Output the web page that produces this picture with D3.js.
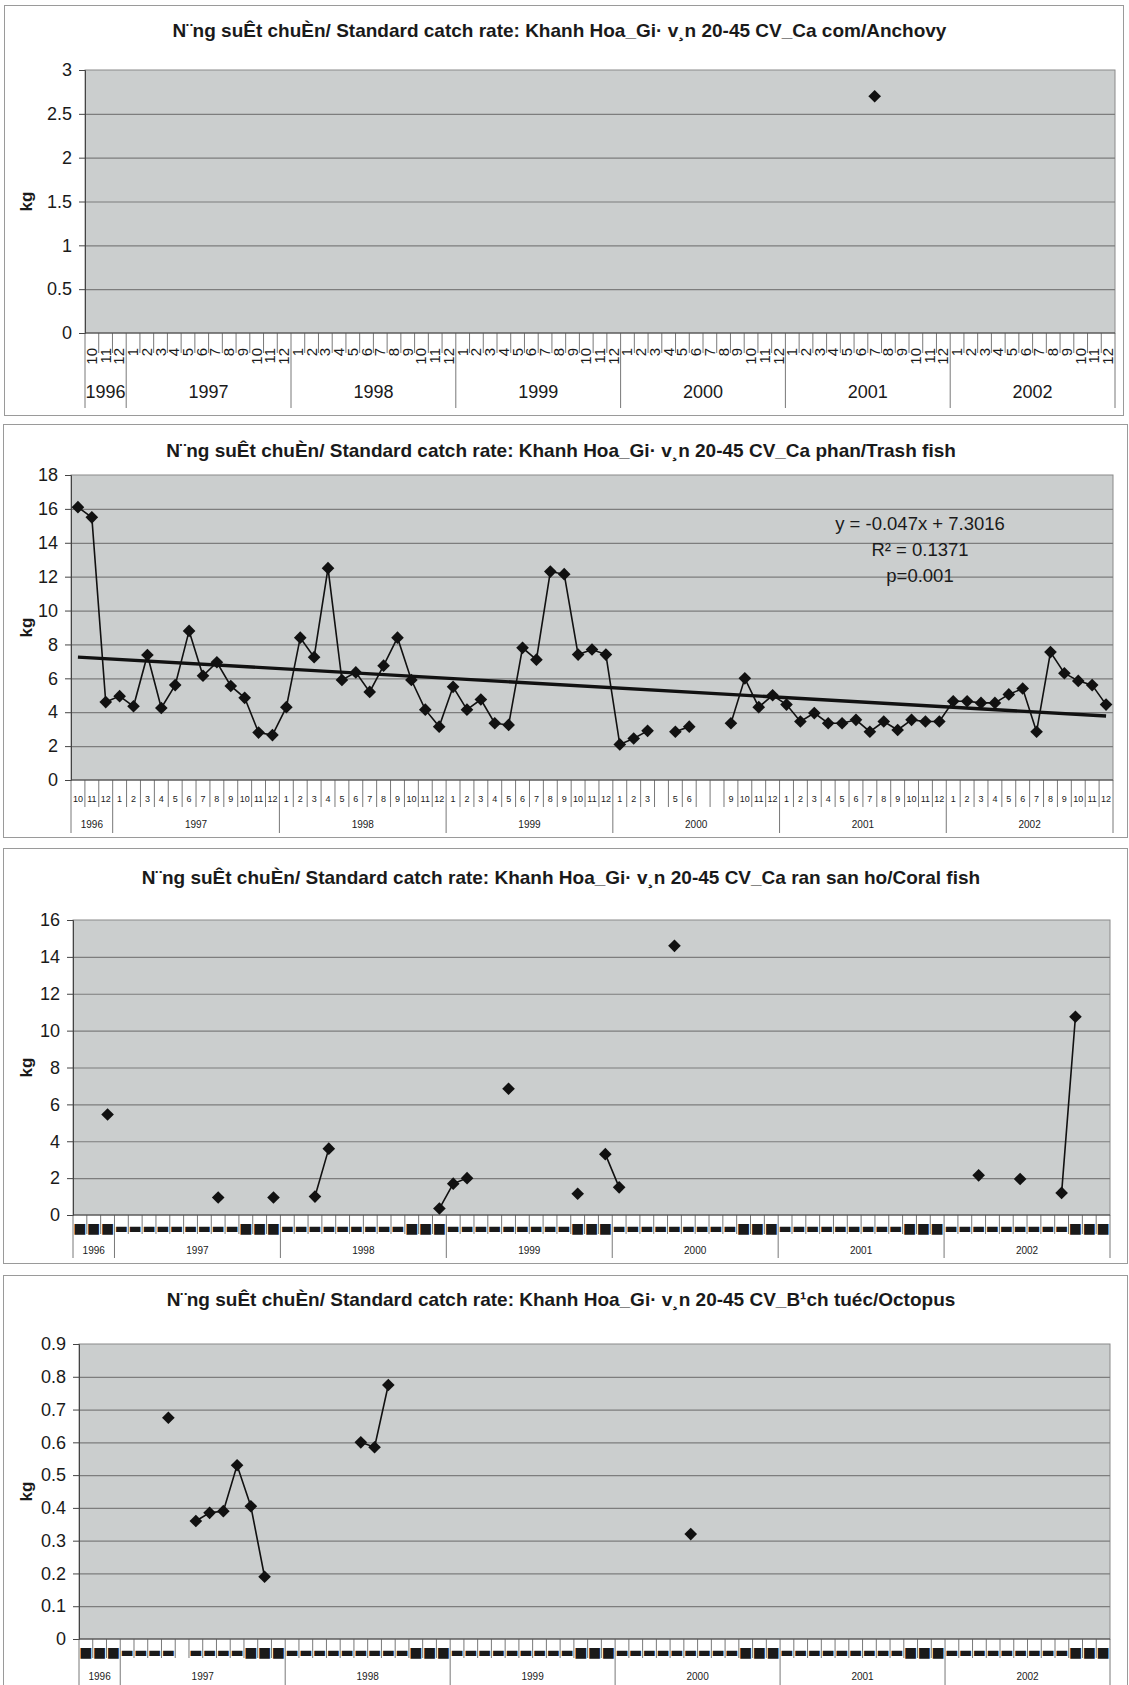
<!DOCTYPE html>
<html>
<head>
<meta charset="utf-8">
<script src="https://cdn.jsdelivr.net/npm/d3@7"></script>
<style>
  body { margin: 0; background: #fff; }
  svg { display: block; }
  text { font-family: "Liberation Sans", Arial, sans-serif; fill: #1a1a1a; }
</style>
</head>
<body>
<div id="chart"></div>
<script>
const WIDTH = 1129;
const HEIGHT = 1685;

// categories: Oct 1996 .. Dec 2002, one per month
const years = ["1996", "1997", "1998", "1999", "2000", "2001", "2002"];
const categories = [];
years.forEach((yr, i) => {
	for (let m = i === 0 ? 10 : 1; m <= 12; m++) categories.push(m + "/" + yr);
});

// months whose tick label is blank in the original
const trashBlankLabels = ["4/2000", "7/2000", "8/2000"];
const octopusBlankLabels = ["5/1997"];

// Ca com / Anchovy
const anchovyMonths = ["7/2001"];
const anchovyValues = [2.7];

// Ca phan / Trash fish (one row per year)
const trashValues = [
	16.1, 15.5, 4.6,
	4.95, 4.35, 7.38, 4.25, 5.6, 8.8, 6.15, 6.95, 5.55, 4.85, 2.8, 2.65,
	4.3, 8.4, 7.25, 12.5, 5.9, 6.35, 5.2, 6.75, 8.4, 5.9, 4.15, 3.15,
	5.5, 4.15, 4.75, 3.35, 3.25, 7.8, 7.1, 12.3, 12.15, 7.4, 7.7, 7.4,
	2.1, 2.45, 2.9, null, 2.85, 3.15, null, null, 3.35, 6.0, 4.3, 5.0,
	4.45, 3.45, 3.95, 3.35, 3.35, 3.55, 2.85, 3.45, 2.95, 3.55, 3.45, 3.45,
	4.65, 4.65, 4.55, 4.55, 5.05, 5.4, 2.85, 7.55, 6.3, 5.85, 5.6, 4.45
];
const trendSlope = -0.047;
const trendIntercept = 7.3016;
const trendText = ["y = -0.047x + 7.3016", "R² = 0.1371", "p=0.001"];

// Ca ran san ho / Coral fish
const coralMonths = ["12/1996", "8/1997", "12/1997", "3/1998", "4/1998", "12/1998", "1/1999", "2/1999",
	"5/1999", "10/1999", "12/1999", "1/2000", "5/2000", "3/2002", "6/2002", "9/2002", "10/2002"];
const coralValues = [5.45, 0.95, 0.95, 1.0, 3.6, 0.35, 1.7, 2.0, 6.85, 1.15, 3.3, 1.5, 14.6, 2.15, 1.95, 1.2, 10.75];

// Bach tuoc / Octopus
const octopusMonths = ["4/1997", "6/1997", "7/1997", "8/1997", "9/1997", "10/1997", "11/1997",
	"6/1998", "7/1998", "8/1998", "6/2000"];
const octopusValues = [0.675, 0.36, 0.385, 0.39, 0.53, 0.405, 0.19, 0.6, 0.585, 0.775, 0.32];

const TITLE_HEAD = "N¨ng suÊt chuÈn/ Standard catch rate: Khanh Hoa_Gi· v¸n 20-45 CV_";

function spread(months, values) {
	const out = categories.map(() => null);
	months.forEach((m, i) => { out[categories.indexOf(m)] = values[i]; });
	return out;
}

const PLOT_FILL = "#cbcece";
const GRID = "#7d7d7d";

const svg = d3.select("#chart").append("svg")
	.attr("width", WIDTH)
	.attr("height", HEIGHT);

const panels = [
	{ title: TITLE_HEAD + "Ca com/Anchovy", values: spread(anchovyMonths, anchovyValues),
	  box: [4, 5, 1123, 415], titleY: 30, left: 85, right: 1115, top: 70, bottom: 333,
	  yMax: 3, step: 0.5, labelStyle: "rotated", blanks: [],
	  monthTick: 20, yearTick: 75, monthY: 348, yearY: 392, yearSize: 18 },
	{ title: TITLE_HEAD + "Ca phan/Trash fish", values: trashValues,
	  box: [3, 424, 1127, 837], titleY: 450, left: 71, right: 1113, top: 475, bottom: 780,
	  yMax: 18, step: 2, labelStyle: "numbers", blanks: trashBlankLabels,
	  monthTick: 27, yearTick: 53, monthY: 799, yearY: 824, yearSize: 10, trend: true },
	{ title: TITLE_HEAD + "Ca ran san ho/Coral fish", values: spread(coralMonths, coralValues),
	  box: [3, 848, 1127, 1263], titleY: 877, left: 73, right: 1110, top: 920, bottom: 1215,
	  yMax: 16, step: 2, labelStyle: "boxes", blanks: [],
	  monthTick: 19, yearTick: 43, monthY: 1228, yearY: 1250, yearSize: 10 },
	{ title: TITLE_HEAD + "B¹ch tuéc/Octopus", values: spread(octopusMonths, octopusValues),
	  box: [3, 1275, 1127, 1700], titleY: 1299, left: 79, right: 1110, top: 1344, bottom: 1639,
	  yMax: 0.9, step: 0.1, labelStyle: "boxes", blanks: octopusBlankLabels,
	  monthTick: 19, yearTick: 50, monthY: 1652, yearY: 1676, yearSize: 10 }
];

panels.forEach(drawPanel);

function drawPanel(p) {
	const g = svg.append("g");
	const [bx0, by0, bx1, by1] = p.box;

	g.append("rect")
		.attr("x", bx0 + 0.5).attr("y", by0 + 0.5)
		.attr("width", bx1 - bx0).attr("height", by1 - by0)
		.attr("fill", "#fff").attr("stroke", "#9a9a9a");

	g.append("text")
		.attr("x", (bx0 + bx1) / 2 - 4)
		.attr("y", p.titleY)
		.attr("text-anchor", "middle")
		.attr("dominant-baseline", "central")
		.style("font-size", "19px")
		.style("font-weight", "bold")
		.text(p.title);

	const x = d3.scaleBand().domain(d3.range(categories.length)).range([p.left, p.right]);
	const y = d3.scaleLinear().domain([0, p.yMax]).range([p.bottom, p.top]);
	const cx = i => x(i) + x.bandwidth() / 2;
	const tickVals = d3.range(0, Math.round(p.yMax / p.step) + 1).map(i => +(i * p.step).toFixed(3));

	g.append("rect")
		.attr("x", p.left).attr("y", p.top)
		.attr("width", p.right - p.left).attr("height", p.bottom - p.top)
		.attr("fill", PLOT_FILL).attr("stroke", "#8a8a8a");

	// gridlines
	g.append("g")
		.attr("transform", `translate(${p.left},0)`)
		.call(d3.axisLeft(y).tickValues(tickVals.slice(1, -1)).tickSize(-(p.right - p.left)).tickFormat(""))
		.call(a => a.select(".domain").remove())
		.call(a => a.selectAll("line").attr("stroke", GRID).attr("stroke-width", 1.2));

	// y axis
	g.append("g")
		.attr("transform", `translate(${p.left},0)`)
		.call(d3.axisLeft(y).tickValues(tickVals).tickSize(6).tickPadding(7)
			.tickFormat(d => String(+d.toFixed(2))))
		.call(a => a.select(".domain").attr("stroke", "#444"))
		.call(a => a.selectAll("line").attr("stroke", "#444"))
		.call(a => a.selectAll("text").style("font-size", "18px").attr("fill", "#1a1a1a")
			.attr("font-family", null));

	g.append("text")
		.attr("transform", `translate(26,${(p.top + p.bottom) / 2}) rotate(-90)`)
		.attr("text-anchor", "middle")
		.attr("dominant-baseline", "central")
		.style("font-size", "17px")
		.style("font-weight", "bold")
		.text("kg");

	// category axis
	const ax = g.append("g");
	ax.append("line")
		.attr("x1", p.left).attr("x2", p.right)
		.attr("y1", p.bottom).attr("y2", p.bottom)
		.attr("stroke", "#444");

	const bounds = d3.range(categories.length + 1);
	const isYearStart = i => i === 0 || i === categories.length || categories[i].startsWith("1/");
	const edge = i => (i === categories.length ? p.right : x(i));

	ax.selectAll("line.month")
		.data(bounds.filter(i => !isYearStart(i)))
		.join("line")
		.attr("class", "month")
		.attr("x1", edge).attr("x2", edge)
		.attr("y1", p.bottom).attr("y2", p.bottom + p.monthTick)
		.attr("stroke", "#555").attr("stroke-width", 0.8);

	ax.selectAll("line.year")
		.data(bounds.filter(isYearStart))
		.join("line")
		.attr("class", "year")
		.attr("x1", edge).attr("x2", edge)
		.attr("y1", p.bottom).attr("y2", p.bottom + p.yearTick)
		.attr("stroke", "#555").attr("stroke-width", 0.8);

	const monthOf = c => c.split("/")[0];
	const shown = d3.range(categories.length).filter(i => !p.blanks.includes(categories[i]));

	if (p.labelStyle === "rotated") {
		ax.selectAll("text.month")
			.data(shown)
			.join("text")
			.attr("class", "month")
			.attr("transform", i => `translate(${cx(i) + 5},${p.monthY}) rotate(-90)`)
			.attr("text-anchor", "end")
			.style("font-size", "15px")
			.text(i => monthOf(categories[i]));
	} else if (p.labelStyle === "numbers") {
		ax.selectAll("text.month")
			.data(shown)
			.join("text")
			.attr("class", "month")
			.attr("x", cx).attr("y", p.monthY)
			.attr("text-anchor", "middle")
			.attr("dominant-baseline", "central")
			.style("font-size", "9px")
			.text(i => monthOf(categories[i]));
	} else {
		// labels came out as missing-glyph boxes in the scan
		ax.selectAll("text.month")
			.data(shown)
			.join("text")
			.attr("class", "month")
			.attr("x", cx).attr("y", p.monthY)
			.attr("text-anchor", "middle")
			.attr("dominant-baseline", "central")
			.style("font-family", "'DejaVu Sans'")
			.style("font-size", "14px")
			.text(i => (monthOf(categories[i]).length > 1 ? "■" : "▬"));
	}

	ax.selectAll("text.year")
		.data(years)
		.join("text")
		.attr("class", "year")
		.attr("x", yr => {
			const idx = categories.map((c, i) => [c, i]).filter(([c]) => c.endsWith(yr)).map(d => d[1]);
			return (x(idx[0]) + x(idx[idx.length - 1]) + x.bandwidth()) / 2;
		})
		.attr("y", p.yearY)
		.attr("text-anchor", "middle")
		.attr("dominant-baseline", "central")
		.style("font-size", p.yearSize + "px")
		.text(yr => yr);

	// trend line
	if (p.trend) {
		const ends = [0, categories.length - 1];
		g.append("line")
			.attr("x1", cx(ends[0])).attr("y1", y(trendIntercept + trendSlope * (ends[0] + 1)))
			.attr("x2", cx(ends[1])).attr("y2", y(trendIntercept + trendSlope * (ends[1] + 1)))
			.attr("stroke", "#111").attr("stroke-width", 3.4);

		g.selectAll("text.eq")
			.data(trendText)
			.join("text")
			.attr("class", "eq")
			.attr("x", 920)
			.attr("y", (d, i) => 523 + i * 26)
			.attr("text-anchor", "middle")
			.attr("dominant-baseline", "central")
			.style("font-size", "18.5px")
			.text(d => d);
	}

	// series
	const pts = p.values.map((v, i) => ({ i, v }));
	g.append("path")
		.datum(pts)
		.attr("fill", "none")
		.attr("stroke", "#111")
		.attr("stroke-width", 1.6)
		.attr("d", d3.line().defined(d => d.v != null).x(d => cx(d.i)).y(d => y(d.v)));

	g.selectAll("path.marker")
		.data(pts.filter(d => d.v != null))
		.join("path")
		.attr("class", "marker")
		.attr("transform", d => `translate(${cx(d.i)},${y(d.v)}) rotate(45)`)
		.attr("d", d3.symbol(d3.symbolSquare, 80)())
		.attr("fill", "#111");
}
</script>
</body>
</html>
